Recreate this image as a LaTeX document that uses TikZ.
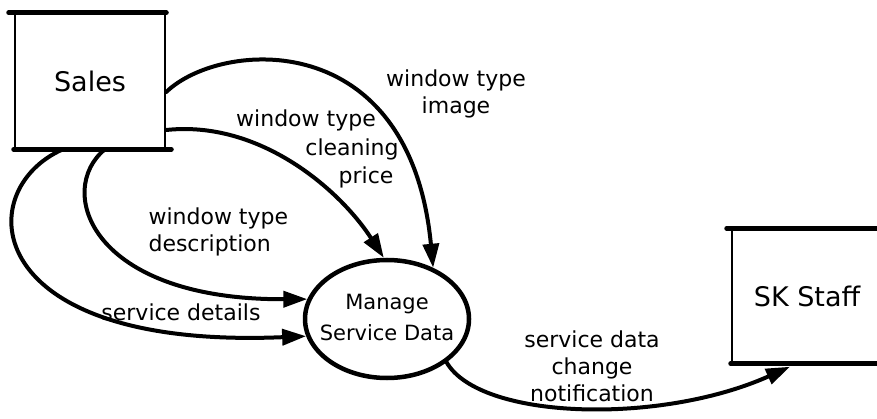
\documentclass[tikz,border=0pt]{standalone}
\usepackage{fontspec}
\setmainfont{DejaVu Sans}
\usetikzlibrary{arrows.meta, shapes.geometric}

\tikzset{
  flow/.style={line width=4pt, line cap=round, -{Triangle[length=24pt,width=16pt]}},
  entity/.style={draw, line width=2.5pt, rectangle, minimum width=150pt, minimum height=134pt, font=\fontsize{27}{32}\selectfont},
  edgebar/.style={line width=5pt, line cap=round},
  lbl/.style={font=\fontsize{22}{27}\selectfont, align=center}
}

\begin{document}
\begin{tikzpicture}[x=1pt, y=-1pt]
        \useasboundingbox (0, 0) rectangle (877, 419);
        \node[entity] (sales) at (90, 81){Sales};
        \node[entity, minimum height=133pt] (staff) at (807, 296){SK Staff};
        \draw[edgebar] ([xshift=-5pt]sales.north west) -- (sales.north east);
        \draw[edgebar] (sales.south west) -- ([xshift=5pt]sales.south east);
        \draw[edgebar] ([xshift=-4pt]staff.north west) -- (staff.north east);
        \draw[edgebar] (staff.south west) -- (staff.south east);
        \node[ellipse, draw, line width=4.5pt, minimum width=164pt, minimum height=118pt] (msd) at (387, 319){};
        \node[align=center, font=\fontsize{21}{31}\selectfont] (msdText) at ([yshift=2pt]msd.center){Manage\\Service Data};

        \draw[flow] ([yshift=-11pt]sales.east) .. controls (220, 40) and (410, 25) .. (msd.48);
        \draw[flow] ([yshift=-49pt]sales.east) .. controls (260, 120) and (340, 190) .. (msd.93);
        \draw[flow] ([xshift=15pt]sales.south) .. controls (55, 190) and (90, 300) .. (msd.166);
        \draw[flow] ([xshift=-27pt]sales.south) .. controls (-30, 190) and (-20, 350) .. (msd.192);
        \draw[flow] (msd.-36) .. controls (480, 420) and (660, 425) .. ([xshift=-17pt, yshift=-3pt]staff.south);

        \node[lbl] (lblImage) at (456, 94){window type\\image};
        \node[lbl] (lblPriceA) at (306, 120){window type};
        \node[lbl] (lblPriceB) at (352, 149){cleaning};
        \node[lbl] (lblPriceC) at (366, 177){price};
        \node[lbl, anchor=west, align=left] (lblDesc) at (145, 232){window type\\description};
        \node[lbl] (lblDetails) at (181, 312){service details};
        \node[lbl] (lblNotify) at (592, 366){service data\\change\\notification};
\end{tikzpicture}
\end{document}
